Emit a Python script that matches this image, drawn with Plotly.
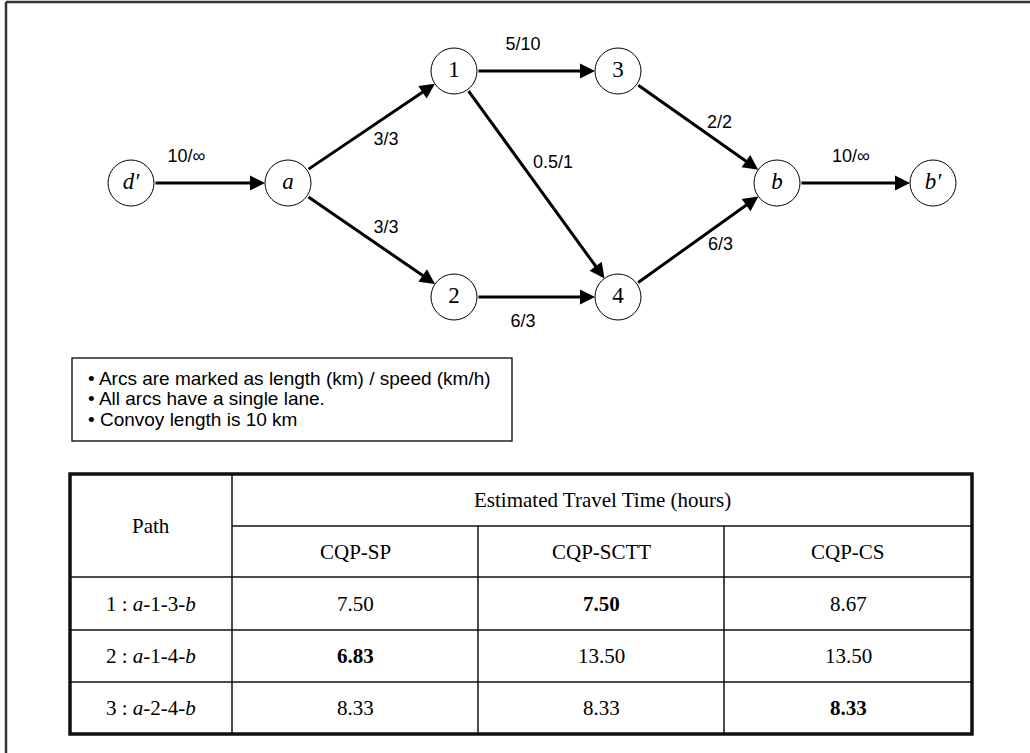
import math
import plotly.graph_objects as go

# ---------------- data ----------------
node_ids = ["d'", "a", "1", "3", "2", "4", "b", "b'"]
node_labels = ["<i>d′</i>", "<i>a</i>", "1", "3", "2", "4", "<i>b</i>", "<i>b′</i>"]

edge_from = ["d'", "a", "a", "1", "1", "2", "3", "4", "b"]
edge_to = ["a", "1", "2", "3", "4", "4", "b", "b", "b'"]
edge_length = ["10", "3", "3", "5", "0.5", "6", "2", "6", "10"]
edge_speed = ["∞", "3", "3", "10", "1", "3", "2", "3", "∞"]

notes = [
    "Arcs are marked as length (km) / speed (km/h)",
    "All arcs have a single lane.",
    "Convoy length is 10 km",
]

table_title = "Estimated Travel Time (hours)"
path_header = "Path"
paths = ["1 : <i>a</i>-1-3-<i>b</i>", "2 : <i>a</i>-1-4-<i>b</i>", "3 : <i>a</i>-2-4-<i>b</i>"]
methods = ["CQP-SP", "CQP-SCTT", "CQP-CS"]
time_cqp_sp = [7.50, 6.83, 8.33]
time_cqp_sctt = [7.50, 13.50, 8.33]
time_cqp_cs = [8.67, 13.50, 8.33]

# ---------------- layout (pixel positions) ----------------
W, H = 1030, 753
node_pos = {"d'": (131, 183), "a": (288, 183), "1": (454, 71), "3": (618, 71),
            "2": (454, 297), "4": (618, 297), "b": (777, 183), "b'": (933, 183)}
R = 23
label_offset = [(-23, -26), (15, 13), (15, -12), (-13, -26), (17, -21),
                (-13, 25), (22, -4), (23, 5), (-4, -26)]

SANS = "Liberation Sans, Arial, sans-serif"
SERIF = "Liberation Serif, Times New Roman, serif"

fig = go.Figure()
shapes = []
annotations = []

# outer frame (top and left edges visible)
shapes.append(dict(type="line", x0=6, y0=2, x1=W + 5, y1=2, xref="x", yref="y",
                   line=dict(color="#333333", width=2.5)))
shapes.append(dict(type="line", x0=6, y0=2, x1=6, y1=H + 5, xref="x", yref="y",
                   line=dict(color="#333333", width=2.5)))

# edges
for i, (s, t) in enumerate(zip(edge_from, edge_to)):
    x0, y0 = node_pos[s]
    x1, y1 = node_pos[t]
    d = math.hypot(x1 - x0, y1 - y0)
    ux, uy = (x1 - x0) / d, (y1 - y0) / d
    annotations.append(dict(
        x=x1 - ux * R, y=y1 - uy * R, ax=x0 + ux * R, ay=y0 + uy * R,
        xref="x", yref="y", axref="x", ayref="y", text="", showarrow=True,
        arrowhead=2, arrowsize=1.0, arrowwidth=3, arrowcolor="black", standoff=0,
        startstandoff=0))

# edge labels
lx, ly, lt = [], [], []
for i, (s, t) in enumerate(zip(edge_from, edge_to)):
    x0, y0 = node_pos[s]
    x1, y1 = node_pos[t]
    lx.append((x0 + x1) / 2 + label_offset[i][0])
    ly.append((y0 + y1) / 2 + label_offset[i][1])
    lt.append(f"{edge_length[i]}/{edge_speed[i]}")
fig.add_trace(go.Scatter(x=lx, y=ly, text=lt, mode="text", textposition="middle center",
                         textfont=dict(family=SANS, size=18, color="black"),
                         hoverinfo="skip", showlegend=False))

# nodes
fig.add_trace(go.Scatter(
    x=[node_pos[n][0] for n in node_ids], y=[node_pos[n][1] for n in node_ids],
    text=node_labels, mode="markers+text", textposition="middle center",
    marker=dict(size=2 * R, color="white", line=dict(color="black", width=1)),
    textfont=dict(family=SERIF, size=23, color="black"),
    hoverinfo="skip", showlegend=False))

# notes box
bx0, by0, bx1, by1 = 72, 358, 512, 441
shapes.append(dict(type="rect", x0=bx0, y0=by0, x1=bx1, y1=by1, xref="x", yref="y",
                   line=dict(color="#222222", width=1.5)))
for k, note in enumerate(notes):
    annotations.append(dict(x=bx0 + 14, y=378 + k * 20.5, xref="x", yref="y",
                            text="• " + note, showarrow=False, xanchor="left",
                            yanchor="middle", font=dict(family=SANS, size=19, color="black")))

# table
cx = [70, 232, 478, 724, 972]
ry = [474, 526, 577, 630, 682, 734]
thin = dict(color="#111111", width=1.5)
thick = dict(color="#111111", width=3.5)
shapes.append(dict(type="rect", x0=cx[0], y0=ry[0], x1=cx[-1], y1=ry[-1], xref="x", yref="y",
                   line=thick))
shapes.append(dict(type="line", x0=cx[1], y0=ry[0], x1=cx[1], y1=ry[-1], xref="x", yref="y", line=thin))
for c in cx[2:4]:
    shapes.append(dict(type="line", x0=c, y0=ry[1], x1=c, y1=ry[-1], xref="x", yref="y", line=thin))
shapes.append(dict(type="line", x0=cx[1], y0=ry[1], x1=cx[-1], y1=ry[1], xref="x", yref="y", line=thin))
for r in ry[2:5]:
    shapes.append(dict(type="line", x0=cx[0], y0=r, x1=cx[-1], y1=r, xref="x", yref="y", line=thin))

tfont = dict(family=SERIF, size=21, color="black")
annotations.append(dict(x=(cx[0] + cx[1]) / 2, y=ry[1], text=path_header, showarrow=False,
                        xref="x", yref="y", font=tfont))
annotations.append(dict(x=(cx[1] + cx[-1]) / 2, y=(ry[0] + ry[1]) / 2, text=table_title,
                        showarrow=False, xref="x", yref="y", font=tfont))
for j, m in enumerate(methods):
    annotations.append(dict(x=(cx[j + 1] + cx[j + 2]) / 2, y=(ry[1] + ry[2]) / 2, text=m,
                            showarrow=False, xref="x", yref="y", font=tfont))
columns = [time_cqp_sp, time_cqp_sctt, time_cqp_cs]
for i, p in enumerate(paths):
    yc = (ry[i + 2] + ry[i + 3]) / 2
    annotations.append(dict(x=(cx[0] + cx[1]) / 2, y=yc, text=p, showarrow=False,
                            xref="x", yref="y", font=tfont))
    for j, col in enumerate(columns):
        v = col[i]
        txt = f"{v:.2f}"
        if v == min(col):
            txt = f"<b>{txt}</b>"
        annotations.append(dict(x=(cx[j + 1] + cx[j + 2]) / 2, y=yc, text=txt, showarrow=False,
                                xref="x", yref="y", font=tfont))

fig.update_layout(
    width=W, height=H, margin=dict(l=0, r=0, t=0, b=0),
    paper_bgcolor="white", plot_bgcolor="white",
    xaxis=dict(range=[0, W], visible=False, fixedrange=True),
    yaxis=dict(range=[H, 0], visible=False, fixedrange=True),
    shapes=shapes, annotations=annotations, showlegend=False,
)
fig.write_html("out.html", config={"displayModeBar": False},
               post_script="document.body.style.margin='0px';document.body.style.overflow='hidden';")
